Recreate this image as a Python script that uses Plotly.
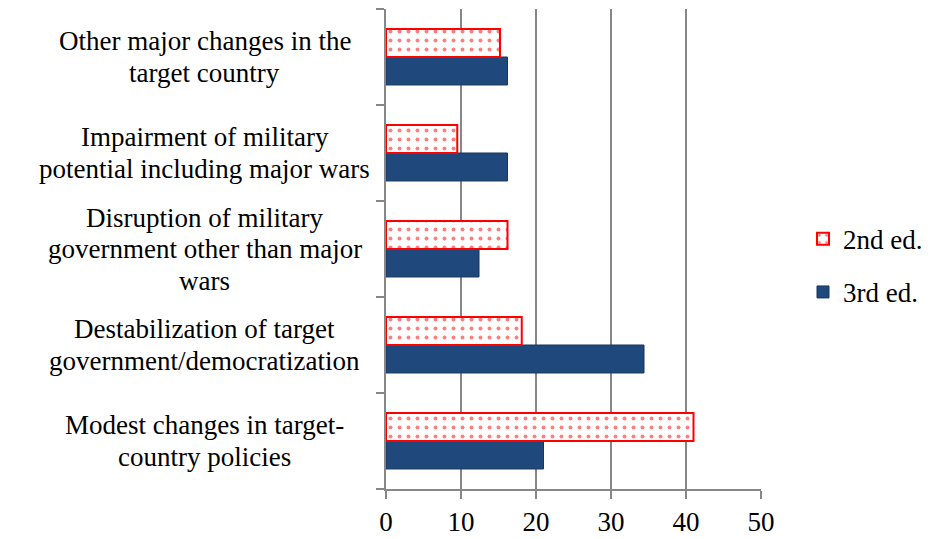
import plotly.graph_objects as go

categories = [
    "Modest changes in target-<br>country policies",
    "Destabilization of target<br>government/democratization",
    "Disruption of military<br>government other than major<br>wars",
    "Impairment of military<br>potential including major wars",
    "Other major changes in the<br>target country",
]
keys = ["modest", "destab", "disrupt", "impair", "other"]
ed2 = [41.0, 18.1, 16.2, 9.5, 15.2]
ed3 = [21.0, 34.4, 12.4, 16.2, 16.2]
x_ticks = [0, 10, 20, 30, 40, 50]

FONT = "Liberation Serif"
GRID = "#878787"
LINE_H = 31.5

fig = go.Figure()
fig.add_trace(go.Bar(
    y=keys, x=ed3, orientation="h", name="3rd ed.",
    marker=dict(color="#1F497D", line=dict(color="#17375E", width=1)),
    legendrank=2, legendgroup="b",
))
fig.add_trace(go.Bar(
    y=keys, x=ed2, orientation="h", name="2nd ed.",
    marker=dict(color="white", line=dict(color="#FF0000", width=2),
                pattern=dict(shape=".", fgcolor="#FF0000", bgcolor="white",
                             size=9, solidity=0.15, fillmode="overlay")),
    legendrank=1, legendgroup="a",
))

for k, lab in zip(keys, categories):
    lines = lab.split("<br>")
    n = len(lines)
    for i, ln in enumerate(lines):
        off = ((n - 1) / 2 - i) * LINE_H
        fig.add_annotation(x=-0.483, xref="paper", y=k, yref="y", text=ln,
                           showarrow=False, xanchor="center", yanchor="middle",
                           yshift=off,
                           font=dict(family=FONT, size=27, color="black"))

fig.update_layout(
    width=931, height=539,
    margin=dict(l=378, r=178, t=1, b=58),
    paper_bgcolor="white", plot_bgcolor="white",
    barmode="group", bargap=0.417, bargroupgap=0,
    font=dict(family=FONT, size=26, color="black"),
    legend=dict(x=1.112, y=0.465, xanchor="left", yanchor="middle",
                font=dict(family=FONT, size=27), tracegroupgap=15,
                itemwidth=30),
    xaxis=dict(range=[0, 50], tickvals=x_ticks, showgrid=True, gridcolor=GRID,
               gridwidth=1.5, showline=True, linecolor=GRID, linewidth=1.5,
               ticks="outside", ticklen=8, tickcolor=GRID, tickwidth=1.5,
               zeroline=False, tickfont=dict(family=FONT, size=27)),
    yaxis=dict(categoryorder="array", categoryarray=keys, showticklabels=False,
               showline=True, linecolor=GRID, linewidth=1.5,
               ticks="outside", tickson="boundaries", ticklen=8,
               tickcolor=GRID, tickwidth=1.5, showgrid=False),
)

fig.write_html("out.html")
